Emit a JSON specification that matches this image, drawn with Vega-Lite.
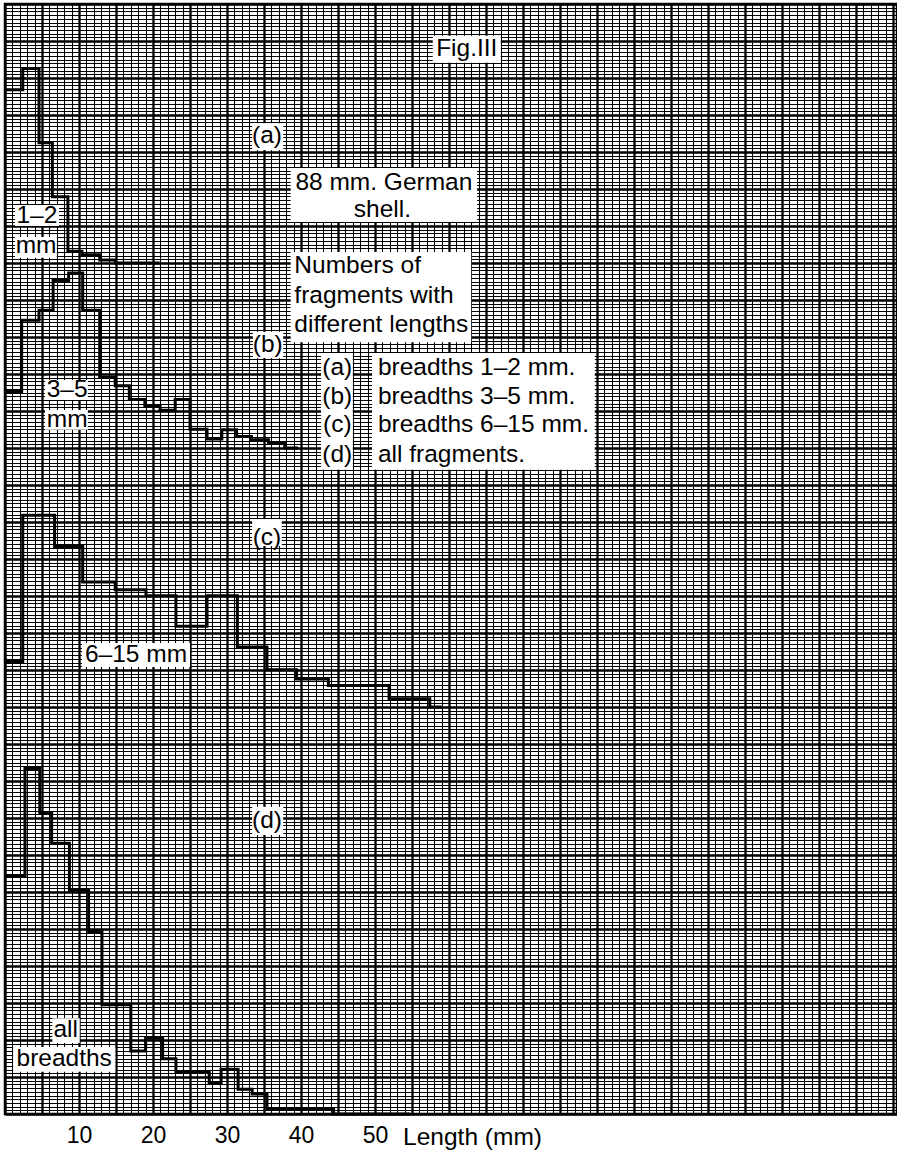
{
  "$schema": "https://vega.github.io/schema/vega-lite/v6.json",
  "width": 892,
  "height": 1110,
  "autosize": {"type": "none"},
  "padding": {"left": 5, "top": 4, "right": 0, "bottom": 40},
  "background": "white",
  "config": {"view": {"stroke": "black", "strokeWidth": 2.5}, "font": "Liberation Sans"},
  "datasets": {
    "boxes": [
      {"x": 57.8, "x2": 67.0, "y": 284.1, "y2": 291.4},
      {"x": 33.4, "x2": 37.6, "y": 260.5, "y2": 267.8},
      {"x": 38.6, "x2": 63.8, "y": 241.1, "y2": 255.7},
      {"x": 1.35, "x2": 7.3, "y": 240.0, "y2": 245.7},
      {"x": 1.35, "x2": 7.0, "y": 231.4, "y2": 237.0},
      {"x": 38.6, "x2": 63.0, "y": 208.6, "y2": 233.0},
      {"x": 33.5, "x2": 37.6, "y": 204.3, "y2": 211.4},
      {"x": 5.4, "x2": 11.2, "y": 193.0, "y2": 198.4},
      {"x": 5.4, "x2": 11.2, "y": 184.9, "y2": 190.3},
      {"x": 42.7, "x2": 47.0, "y": 174.1, "y2": 205.7},
      {"x": 49.6, "x2": 79.7, "y": 174.1, "y2": 205.7},
      {"x": 33.4, "x2": 37.4, "y": 153.5, "y2": 160.8},
      {"x": 10.4, "x2": 25.0, "y": 120.8, "y2": 127.3},
      {"x": 33.4, "x2": 37.6, "y": 75.4, "y2": 83.0},
      {"x": 6.4, "x2": 10.1, "y": 19.2, "y2": 25.9},
      {"x": 1.1, "x2": 14.9, "y": 11.4, "y2": 18.1}
    ],
    "centered": [
      {"x": 62.4, "y": 287.8, "text": "Fig.III"},
      {"x": 35.4, "y": 264.3, "text": "(a)"},
      {"x": 51.2, "y": 251.6, "text": "88 mm. German"},
      {"x": 51.0, "y": 244.3, "text": "shell."},
      {"x": 4.3, "y": 242.7, "text": "1–2"},
      {"x": 4.2, "y": 234.6, "text": "mm"},
      {"x": 35.5, "y": 207.8, "text": "(b)"},
      {"x": 8.4, "y": 195.7, "text": "3–5"},
      {"x": 8.4, "y": 187.6, "text": "mm"},
      {"x": 44.9, "y": 201.6, "text": "(a)"},
      {"x": 44.9, "y": 193.8, "text": "(b)"},
      {"x": 44.9, "y": 186.2, "text": "(c)"},
      {"x": 44.9, "y": 178.1, "text": "(d)"},
      {"x": 35.4, "y": 155.7, "text": "(c)"},
      {"x": 17.7, "y": 124.1, "text": "6–15 mm"},
      {"x": 35.4, "y": 79.2, "text": "(d)"},
      {"x": 8.2, "y": 22.7, "text": "all"},
      {"x": 8.0, "y": 14.9, "text": "breadths"}
    ],
    "leftaligned": [
      {"x": 39.1, "y": 229.3, "text": "Numbers of"},
      {"x": 39.1, "y": 221.2, "text": "fragments with"},
      {"x": 39.1, "y": 213.2, "text": "different lengths"},
      {"x": 50.4, "y": 201.6, "text": "breadths 1–2 mm."},
      {"x": 50.4, "y": 193.8, "text": "breadths 3–5 mm."},
      {"x": 50.4, "y": 186.2, "text": "breadths 6–15 mm."},
      {"x": 50.4, "y": 178.1, "text": "all fragments."},
      {"x": 53.8, "y": -6.5, "text": "Length (mm)"}
    ],
    "hist": [
      {"series": "a", "length": 0, "count": 46.8},
      {"series": "a", "length": 2.4, "count": 52.6},
      {"series": "a", "length": 4.6, "count": 32.5},
      {"series": "a", "length": 6.4, "count": 17.9},
      {"series": "a", "length": 8.5, "count": 3.2},
      {"series": "a", "length": 10.4, "count": 2.2},
      {"series": "a", "length": 12.8, "count": 0.8},
      {"series": "a", "length": 14.9, "count": 0},
      {"series": "a", "length": 20.9, "count": 0},
      {"series": "b", "length": 0, "count": 15.3},
      {"series": "b", "length": 2.25, "count": 34.5},
      {"series": "b", "length": 4.6, "count": 37.2},
      {"series": "b", "length": 6.5, "count": 45.3},
      {"series": "b", "length": 8.6, "count": 47.3},
      {"series": "b", "length": 10.5, "count": 37.2},
      {"series": "b", "length": 12.8, "count": 19.1},
      {"series": "b", "length": 14.9, "count": 16.8},
      {"series": "b", "length": 16.8, "count": 13.1},
      {"series": "b", "length": 18.9, "count": 11.2},
      {"series": "b", "length": 20.95, "count": 10.2},
      {"series": "b", "length": 23.0, "count": 13.1},
      {"series": "b", "length": 25.0, "count": 5.1},
      {"series": "b", "length": 27.3, "count": 2.4},
      {"series": "b", "length": 29.3, "count": 4.9},
      {"series": "b", "length": 31.3, "count": 3.1},
      {"series": "b", "length": 33.3, "count": 2.2},
      {"series": "b", "length": 35.6, "count": 1.2},
      {"series": "b", "length": 37.8, "count": 0},
      {"series": "b", "length": 39.6, "count": 0},
      {"series": "c", "length": 0, "count": 12.3},
      {"series": "c", "length": 2.4, "count": 51.8},
      {"series": "c", "length": 6.7, "count": 43.4},
      {"series": "c", "length": 10.5, "count": 33.8},
      {"series": "c", "length": 14.9, "count": 31.7},
      {"series": "c", "length": 19.05, "count": 30.1},
      {"series": "c", "length": 23.1, "count": 21.8},
      {"series": "c", "length": 27.3, "count": 30.1},
      {"series": "c", "length": 31.4, "count": 16.2},
      {"series": "c", "length": 35.4, "count": 10.1},
      {"series": "c", "length": 39.4, "count": 7.6},
      {"series": "c", "length": 43.7, "count": 5.8},
      {"series": "c", "length": 51.9, "count": 2.2},
      {"series": "c", "length": 57.4, "count": 0},
      {"series": "c", "length": 59.0, "count": 0},
      {"series": "d", "length": 0, "count": 64.3},
      {"series": "d", "length": 2.7, "count": 93.4},
      {"series": "d", "length": 4.7, "count": 81.4},
      {"series": "d", "length": 6.3, "count": 73.2},
      {"series": "d", "length": 8.7, "count": 60.5},
      {"series": "d", "length": 11.3, "count": 49.3},
      {"series": "d", "length": 13.1, "count": 29.5},
      {"series": "d", "length": 17.0, "count": 17.0},
      {"series": "d", "length": 19.0, "count": 20.5},
      {"series": "d", "length": 21.3, "count": 14.9},
      {"series": "d", "length": 23.1, "count": 11.3},
      {"series": "d", "length": 27.6, "count": 8.3},
      {"series": "d", "length": 29.2, "count": 12.1},
      {"series": "d", "length": 31.5, "count": 6.7},
      {"series": "d", "length": 33.4, "count": 5.4},
      {"series": "d", "length": 35.4, "count": 1.5},
      {"series": "d", "length": 44.4, "count": 0},
      {"series": "d", "length": 54.7, "count": 0}
    ]
  },
  "resolve": {"scale": {"y": "independent"}},
  "layer": [
    {
      "data": {"name": "boxes"},
      "mark": {"type": "rect", "fill": "white", "strokeWidth": 0},
      "encoding": {
        "x": {
          "field": "x", "type": "quantitative",
          "scale": {"domain": [0, 120.54], "nice": false, "zero": false},
          "axis": {
            "title": null, "tickCount": 241, "grid": true, "gridColor": "black", "gridOpacity": 1,
            "gridWidth": {"condition": {"test": "datum.value % 5 === 0", "value": 2.3}, "value": 1.05},
            "ticks": false, "tickSize": 0, "domain": false, "format": "d",
            "labelExpr": "datum.value >= 10 && datum.value <= 50 && datum.value % 10 === 0 ? datum.label : ''",
            "labelFont": "Liberation Sans", "labelFontSize": 23, "labelColor": "black",
            "labelPadding": 10, "labelOverlap": false, "labelFlush": false, "labelBound": false,
            "minExtent": 0
          }
        },
        "x2": {"field": "x2"},
        "y": {
          "field": "y", "type": "quantitative",
          "scale": {"domain": [0, 300], "nice": false, "zero": false},
          "axis": {
            "title": null, "tickCount": 300, "grid": true, "gridColor": "black", "gridOpacity": 1,
            "gridWidth": {"condition": {"test": "datum.value % 10 === 0", "value": 2.3}, "value": 1.05},
            "ticks": false, "tickSize": 0, "domain": false, "labels": false,
            "minExtent": 0, "maxExtent": 0, "offset": 0
          }
        },
        "y2": {"field": "y2"}
      }
    },
    {
      "data": {"name": "centered"},
      "mark": {"type": "text", "font": "Liberation Sans", "fontSize": 24.5, "align": "center", "baseline": "middle", "color": "black"},
      "encoding": {
        "x": {"field": "x", "type": "quantitative", "scale": {"domain": [0, 120.54], "nice": false, "zero": false}},
        "y": {"field": "y", "type": "quantitative", "scale": {"domain": [0, 300], "nice": false, "zero": false}, "axis": null},
        "text": {"field": "text"}
      }
    },
    {
      "data": {"name": "leftaligned"},
      "mark": {"type": "text", "font": "Liberation Sans", "fontSize": 24.5, "align": "left", "baseline": "middle", "color": "black"},
      "encoding": {
        "x": {"field": "x", "type": "quantitative", "scale": {"domain": [0, 120.54], "nice": false, "zero": false}},
        "y": {"field": "y", "type": "quantitative", "scale": {"domain": [0, 300], "nice": false, "zero": false}, "axis": null},
        "text": {"field": "text"}
      }
    },
    {
      "data": {"name": "hist"},
      "transform": [{"filter": "datum.series === 'a'"}],
      "mark": {"type": "line", "interpolate": "step-after", "color": "black", "strokeWidth": 3},
      "encoding": {
        "x": {"field": "length", "type": "quantitative", "scale": {"domain": [0, 120.54], "nice": false, "zero": false}},
        "y": {"field": "count", "type": "quantitative", "scale": {"domain": [-230, 70], "nice": false, "zero": false}, "axis": null}
      }
    },
    {
      "data": {"name": "hist"},
      "transform": [{"filter": "datum.series === 'b'"}],
      "mark": {"type": "line", "interpolate": "step-after", "color": "black", "strokeWidth": 3},
      "encoding": {
        "x": {"field": "length", "type": "quantitative", "scale": {"domain": [0, 120.54], "nice": false, "zero": false}},
        "y": {"field": "count", "type": "quantitative", "scale": {"domain": [-180, 120], "nice": false, "zero": false}, "axis": null}
      }
    },
    {
      "data": {"name": "hist"},
      "transform": [{"filter": "datum.series === 'c'"}],
      "mark": {"type": "line", "interpolate": "step-after", "color": "black", "strokeWidth": 3},
      "encoding": {
        "x": {"field": "length", "type": "quantitative", "scale": {"domain": [0, 120.54], "nice": false, "zero": false}},
        "y": {"field": "count", "type": "quantitative", "scale": {"domain": [-110, 190], "nice": false, "zero": false}, "axis": null}
      }
    },
    {
      "data": {"name": "hist"},
      "transform": [{"filter": "datum.series === 'd'"}],
      "mark": {"type": "line", "interpolate": "step-after", "color": "black", "strokeWidth": 3},
      "encoding": {
        "x": {"field": "length", "type": "quantitative", "scale": {"domain": [0, 120.54], "nice": false, "zero": false}},
        "y": {"field": "count", "type": "quantitative", "scale": {"domain": [0, 300], "nice": false, "zero": false}, "axis": null}
      }
    }
  ]
}
